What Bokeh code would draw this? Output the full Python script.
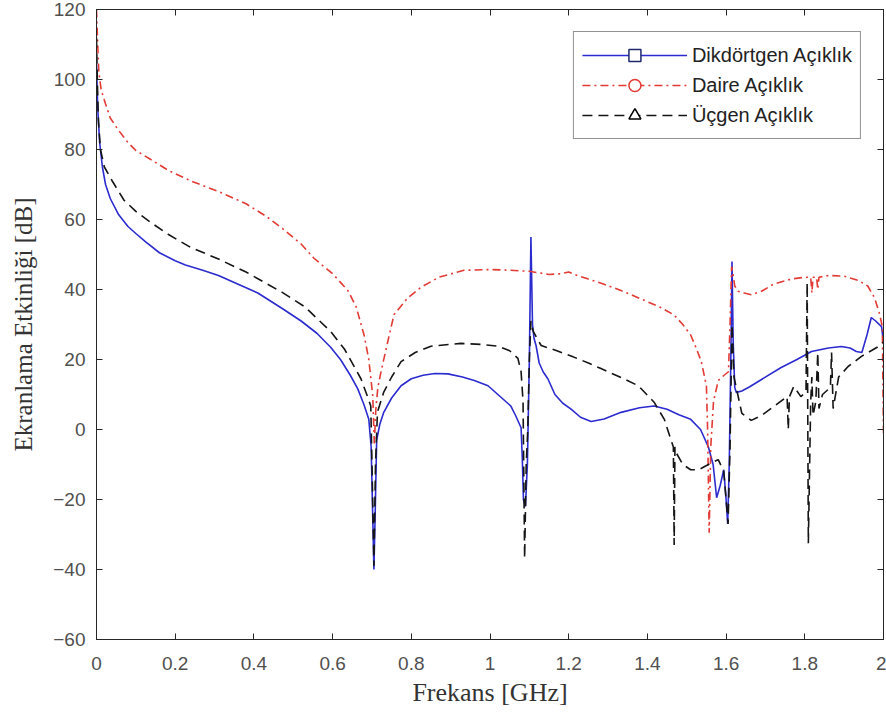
from bokeh.plotting import figure
from bokeh.models import (Legend, LegendItem, LinearAxis,
                          FixedTicker, CustomJSTickFormatter, Range1d)
from bokeh.embed import file_html
from bokeh.resources import INLINE

# ---------------- data ----------------
x_ticks = [0, 0.2, 0.4, 0.6, 0.8, 1.0, 1.2, 1.4, 1.6, 1.8, 2.0]
y_ticks = [-60, -40, -20, 0, 20, 40, 60, 80, 100, 120]

series_names = ["Dikdörtgen Açıklık", "Daire Açıklık", "Üçgen Açıklık"]

rect_x = [0, 0.003, 0.008, 0.015, 0.023, 0.035, 0.056, 0.08, 0.1, 0.125, 0.16, 0.2, 0.226, 0.27,
          0.31, 0.36, 0.41, 0.473, 0.52, 0.56, 0.595, 0.62, 0.645, 0.664, 0.68, 0.692, 0.698,
          0.702, 0.705, 0.708, 0.712, 0.72, 0.73, 0.75, 0.774, 0.8, 0.83, 0.86, 0.893, 0.93,
          0.96, 0.995, 1.02, 1.04, 1.053, 1.065, 1.075, 1.079, 1.082, 1.085, 1.09, 1.095, 1.1,
          1.104, 1.108, 1.112, 1.117, 1.125, 1.135, 1.147, 1.165, 1.185, 1.206, 1.23, 1.257,
          1.29, 1.333, 1.38, 1.417, 1.45, 1.48, 1.51, 1.535, 1.555, 1.567, 1.576, 1.585, 1.594,
          1.6, 1.604, 1.608, 1.612, 1.615, 1.618, 1.622, 1.626, 1.64, 1.66, 1.69, 1.74, 1.78,
          1.817, 1.86, 1.893, 1.915, 1.931, 1.945, 1.958, 1.969, 1.98, 1.995, 2.0]
rect_y = [105, 92, 82, 75, 70, 66, 61.4, 58, 56, 53.6, 50.5, 48.2, 47, 45.5, 44, 41.5, 39, 34.5,
          31, 27.5, 23.5, 20, 15.5, 11.6, 7, 2.9, -5, -25, -40, -25, -3, 1.5, 4.9, 9, 12.5,
          14.5, 15.5, 16, 15.9, 15, 14, 12.5, 10, 8, 6.7, 4, 1.5, 0.5, -8, -20, -22, -10, 20,
          55, 30, 26, 24, 19, 16.5, 14.5, 10, 7.5, 5.8, 3.5, 2.3, 3, 4.9, 6.2, 6.7, 5.8, 4.2,
          2.9, 0, -5, -10, -19.5, -16, -11.5, -20, -27, -10, 20, 48, 25, 12, 10.6, 11, 12.2,
          14.3, 17.7, 20, 22.3, 23.3, 23.7, 23.3, 22.3, 22, 27, 32, 31, 29.4, 25]

circ_x = [0, 0.003, 0.006, 0.012, 0.023, 0.035, 0.056, 0.08, 0.1, 0.14, 0.183, 0.24, 0.31, 0.38,
          0.43, 0.473, 0.52, 0.552, 0.6, 0.639, 0.66, 0.68, 0.692, 0.702, 0.706, 0.71, 0.715,
          0.723, 0.74, 0.756, 0.79, 0.824, 0.87, 0.934, 1.0, 1.05, 1.1, 1.15, 1.18, 1.2, 1.214,
          1.25, 1.29, 1.333, 1.39, 1.435, 1.468, 1.49, 1.51, 1.525, 1.537, 1.55, 1.553, 1.557,
          1.561, 1.568, 1.58, 1.595, 1.606, 1.61, 1.614, 1.618, 1.622, 1.63, 1.646, 1.664, 1.69,
          1.72, 1.766, 1.80, 1.815, 1.818, 1.821, 1.83, 1.833, 1.836, 1.86, 1.9, 1.936, 1.96,
          1.977, 1.99, 1.997, 2.0]
circ_y = [120, 110, 102, 97, 93, 89, 85.5, 82, 79.7, 77, 74, 71, 68, 64.5, 61, 57.4, 53, 49,
          44.5, 39.7, 35, 27, 20, 9.6, -4, 6, 12, 16.5, 25, 32.8, 37.5, 40.6, 43.5, 45.5, 45.7,
          45.5, 45.2, 44.3, 44.5, 45, 44.3, 43, 41.5, 39.7, 37, 34.8, 32.7, 30, 27, 23, 19.4,
          12.5, 0, -29.5, -5, 8, 14, 15.5, 16.5, 30, 46.5, 44, 41, 39.5, 39, 38.5, 39.5, 41.5,
          43, 43.5, 43.5, 39, 43.5, 43.5, 40, 43.5, 44, 43.8, 42.6, 41, 37.7, 33, 29.4, -1]

tri_x = [0, 0.002, 0.005, 0.01, 0.02, 0.04, 0.07, 0.1, 0.14, 0.183, 0.24, 0.31, 0.38, 0.473,
         0.53, 0.595, 0.63, 0.672, 0.69, 0.697, 0.701, 0.705, 0.709, 0.714, 0.73, 0.75, 0.774,
         0.81, 0.85, 0.926, 0.98, 1.02, 1.05, 1.071, 1.079, 1.084, 1.088, 1.092, 1.096, 1.1,
         1.104, 1.11, 1.13, 1.17, 1.206, 1.25, 1.282, 1.33, 1.377, 1.417, 1.443, 1.46, 1.466,
         1.468, 1.470, 1.475, 1.49, 1.51, 1.53, 1.555, 1.58, 1.594, 1.6, 1.605, 1.61, 1.615,
         1.62, 1.64, 1.664, 1.69, 1.723, 1.755, 1.758, 1.761, 1.772, 1.79, 1.803, 1.806, 1.809,
         1.815, 1.818, 1.821, 1.828, 1.833, 1.836, 1.845, 1.865, 1.868, 1.872, 1.886, 1.91,
         1.944, 1.987, 2.0]
tri_y = [112, 100, 88, 80, 75, 71, 65.5, 62.3, 59, 55.7, 52, 48.7, 45, 39.1, 35, 28, 23, 14.5,
         9, 6.7, -15, -39, -10, 5, 10.7, 15, 19.4, 22, 23.8, 24.6, 24.3, 23.8, 22.5, 20.3, 16.5,
         8, -36.8, -10, 0, 20, 31, 28, 24, 22.5, 21, 19, 17.4, 15, 12.5, 7.8, 2.9, -3, -5, -33,
         -5, -7, -10, -11.5, -11.5, -10, -8.6, -12, -20, -27, -5, 30, 15, 4.6, 2.6, 4, 6.7,
         9.4, 0, 9.4, 12.3, 9.4, 10.7, 42, -32.5, 8, 15, 4, 8, 22, 6, 10, 12, 22, 6, 15, 18,
         20.9, 23.7, 25]

# ---------------- figure ----------------
p = figure(width=886, height=724, output_backend="svg", toolbar_location=None,
           x_range=Range1d(0, 2), y_range=Range1d(-60, 120),
           min_border_left=96, min_border_right=3, min_border_top=9, min_border_bottom=85)
p.xgrid.visible = False
p.ygrid.visible = False
p.outline_line_color = "#262626"
p.outline_line_width = 1
p.background_fill_color = "white"
p.border_fill_color = "white"

blue = "#2b2bd0"
red = "#e23a35"
black = "#151515"

l1 = p.line(rect_x, rect_y, line_color=blue, line_width=1.6)
l2 = p.line(circ_x, circ_y, line_color=red, line_width=1.6, line_dash="8 4 2 4")
l3 = p.line(tri_x, tri_y, line_color=black, line_width=1.6, line_dash="10 6")

# legend-only markers (no plotted point: NaN data)
nan = float("nan")
m1 = p.scatter([nan], [nan], marker="square", size=16, fill_color="white",
               line_color="#1f2a6e", line_width=1.5)
m2 = p.scatter([nan], [nan], marker="circle", size=18, fill_color="white",
               line_color=red, line_width=1.5)
m3 = p.scatter([nan], [nan], marker="triangle", size=18, fill_color="white",
               line_color="black", line_width=1.5)

fmt = CustomJSTickFormatter(code="""
    var s = tick.toFixed(1);
    if (s.endsWith('.0')) { s = s.slice(0, -2); }
    if (s === '-0') { s = '0'; }
    return s;
""")

for ax in p.xaxis + p.yaxis:
    ax.major_tick_in = 6
    ax.major_tick_out = 0
    ax.minor_tick_in = 0
    ax.minor_tick_out = 0
    ax.axis_line_color = "#262626"
    ax.major_tick_line_color = "#262626"
    ax.major_label_text_font = "Liberation Sans"
    ax.major_label_text_font_size = "19px"
    ax.major_label_text_color = "#505050"
    ax.axis_label_text_font = "Liberation Serif"
    ax.axis_label_text_font_style = "normal"
    ax.axis_label_text_color = "#333333"

p.xaxis.ticker = FixedTicker(ticks=x_ticks)
p.xaxis.formatter = fmt
p.yaxis.ticker = FixedTicker(ticks=y_ticks)
p.xaxis.axis_label = "Frekans [GHz]"
p.yaxis.axis_label = "Ekranlama Etkinliği [dB]"
p.xaxis.axis_label_text_font_size = "26px"
p.yaxis.axis_label_text_font_size = "25px"
p.xaxis.major_label_standoff = 17
p.yaxis.major_label_standoff = 11
p.xaxis.axis_label_standoff = 5
p.yaxis.axis_label_standoff = 13

# box ticks (top/right), no labels
blank = CustomJSTickFormatter(code="return '';")
for loc, ticks in (("right", y_ticks), ("above", x_ticks)):
    ax = LinearAxis(ticker=FixedTicker(ticks=ticks), formatter=blank,
                    major_label_text_font_size="2px",
                    major_tick_in=6, major_tick_out=0, minor_tick_in=0, minor_tick_out=0,
                    major_label_standoff=0, axis_line_color="#262626",
                    major_tick_line_color="#262626")
    p.add_layout(ax, loc)

legend = Legend(items=[
    LegendItem(label=series_names[0], renderers=[l1, m1]),
    LegendItem(label=series_names[1], renderers=[l2, m2]),
    LegendItem(label=series_names[2], renderers=[l3, m3]),
], location="top_right")
legend.label_text_font = "Liberation Sans"
legend.label_text_font_size = "20px"
legend.label_text_color = "#222222"
legend.glyph_width = 105
legend.glyph_height = 30
legend.spacing = 0
legend.padding = 8
legend.margin = 22
legend.label_standoff = 5
legend.border_line_color = "#262626"
legend.border_line_width = 1
legend.background_fill_alpha = 1
p.add_layout(legend, "center")

open("out.html", "w").write(file_html(p, INLINE))
